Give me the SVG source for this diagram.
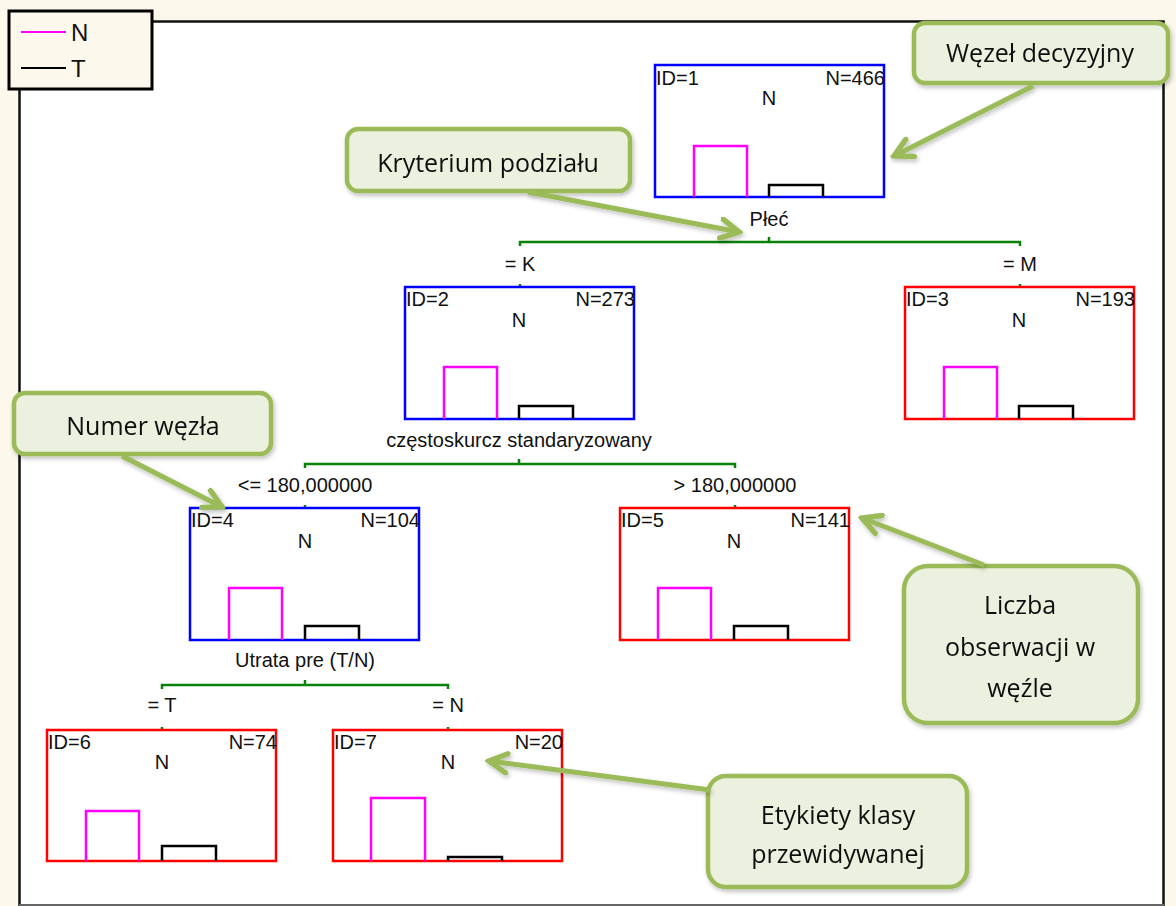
<svg xmlns="http://www.w3.org/2000/svg" width="1176" height="906" viewBox="0 0 1176 906">
<defs>
<style>
.t{font-family:"Liberation Sans",Arial,sans-serif;font-size:20px;fill:#111}
.m{text-anchor:middle}
.e{text-anchor:end}
.nb{fill:none;stroke:#0000ff;stroke-width:2.5}
.nr{fill:none;stroke:#ff0000;stroke-width:2.5}
.bp{fill:none;stroke:#ff00ff;stroke-width:2.5}
.bk{fill:none;stroke:#000;stroke-width:2.5}
.br{fill:none;stroke:#0a820a;stroke-width:2.5}
.co{fill:#ebf1de;stroke:#9bbb59;stroke-width:4.5}
.ct{font-family:"Open Sans","Noto Sans",sans-serif;font-size:25px;fill:#111;text-anchor:middle}
.ar{fill:none;stroke:#9bbb59;stroke-width:5;marker-end:url(#ah)}
</style>
<marker id="ah" viewBox="0 0 20 20" refX="17" refY="10" markerWidth="24" markerHeight="24" markerUnits="userSpaceOnUse" orient="auto">
<path d="M2,2 L17,10 L2,18" fill="none" stroke="#9bbb59" stroke-width="4.5" stroke-linecap="round" stroke-linejoin="miter"/>
</marker>
<filter id="sh" x="-10%" y="-10%" width="130%" height="140%">
<feDropShadow dx="1.5" dy="2.5" stdDeviation="2" flood-color="#000" flood-opacity="0.25"/>
</filter>
</defs>
<rect x="0" y="0" width="1176" height="906" fill="#fdf8ec"/>
<rect x="19.5" y="21.5" width="1144" height="890" fill="#fff" stroke="#111" stroke-width="2.5"/>
<line x1="19" y1="905" x2="1164" y2="905" stroke="#666" stroke-width="2"/>

<g id="legend">
<rect x="9" y="11" width="143" height="78" fill="#fdf8ec" stroke="#000" stroke-width="3"/>
<line x1="21" y1="32" x2="66" y2="32" stroke="#ff00ff" stroke-width="2"/>
<line x1="21" y1="68" x2="66" y2="68" stroke="#000" stroke-width="2"/>
<text class="t" x="71" y="41" style="font-size:24px">N</text>
<text class="t" x="71" y="77" style="font-size:24px">T</text>
</g>

<g id="connectors">
<path class="br" d="M520,246 V242 H1020 V246 M769,242 V237"/>
<path class="br" d="M520,284 V288 M1020,284 V288"/>
<path class="br" d="M305,468 V464 H735 V468 M519,464 V459"/>
<path class="br" d="M305,505 V509 M735,505 V509"/>
<path class="br" d="M162,689 V685 H448 V689 M305,685 V680"/>
<path class="br" d="M162,727 V731 M448,727 V731"/>
</g>

<g id="node1">
<rect class="nb" x="655" y="65" width="229" height="132"/>
<text class="t" x="656" y="85">ID=1</text>
<text class="t e" x="885" y="85">N=466</text>
<text class="t m" x="769" y="105">N</text>
<path class="bp" d="M694,197 V146 H747 V197"/>
<path class="bk" d="M769,197 V185 H823 V197"/>
<text class="t m" x="769" y="226">Płeć</text>
<text class="t m" x="520" y="271">= K</text>
<text class="t m" x="1020" y="271">= M</text>
</g>

<g id="node2">
<rect class="nb" x="405" y="287" width="229" height="132"/>
<text class="t" x="406" y="306">ID=2</text>
<text class="t e" x="635" y="306">N=273</text>
<text class="t m" x="519" y="327">N</text>
<path class="bp" d="M444,419 V367 H497 V419"/>
<path class="bk" d="M519,419 V406 H573 V419"/>
<text class="t m" x="519" y="447">częstoskurcz standaryzowany</text>
<text class="t m" x="305" y="492">&lt;= 180,000000</text>
<text class="t m" x="735" y="492">&gt; 180,000000</text>
</g>

<g id="node3">
<rect class="nr" x="905" y="287" width="229" height="132"/>
<text class="t" x="906" y="306">ID=3</text>
<text class="t e" x="1135" y="306">N=193</text>
<text class="t m" x="1019" y="327">N</text>
<path class="bp" d="M944,419 V367 H997 V419"/>
<path class="bk" d="M1019,419 V406 H1073 V419"/>
</g>

<g id="node4">
<rect class="nb" x="190" y="508" width="229" height="132"/>
<text class="t" x="191" y="527">ID=4</text>
<text class="t e" x="420" y="527">N=104</text>
<text class="t m" x="305" y="548">N</text>
<path class="bp" d="M229,640 V588 H282 V640"/>
<path class="bk" d="M305,640 V626 H359 V640"/>
<text class="t m" x="305" y="667">Utrata pre (T/N)</text>
<text class="t m" x="162" y="712">= T</text>
<text class="t m" x="448" y="712">= N</text>
</g>

<g id="node5">
<rect class="nr" x="620" y="508" width="229" height="132"/>
<text class="t" x="621" y="527">ID=5</text>
<text class="t e" x="850" y="527">N=141</text>
<text class="t m" x="734" y="548">N</text>
<path class="bp" d="M658,640 V588 H711 V640"/>
<path class="bk" d="M734,640 V626 H788 V640"/>
</g>

<g id="node6">
<rect class="nr" x="47" y="730" width="229" height="131"/>
<text class="t" x="48" y="749">ID=6</text>
<text class="t e" x="277" y="749">N=74</text>
<text class="t m" x="162" y="769">N</text>
<path class="bp" d="M86,861 V811 H139 V861"/>
<path class="bk" d="M162,861 V846 H216 V861"/>
</g>

<g id="node7">
<rect class="nr" x="333" y="730" width="229" height="131"/>
<text class="t" x="334" y="749">ID=7</text>
<text class="t e" x="563" y="749">N=20</text>
<text class="t m" x="448" y="769">N</text>
<path class="bp" d="M371,861 V798 H425 V861"/>
<path class="bk" d="M448,861 V857 H502 V861"/>
</g>

<g id="callout-wezel" filter="url(#sh)">
<rect class="co" x="914" y="23" width="254" height="60" rx="11"/>
<text class="ct" x="1040" y="62">Węzeł decyzyjny</text>
</g>
<g id="callout-kryterium" filter="url(#sh)">
<rect class="co" x="347" y="129" width="283" height="62" rx="11"/>
<text class="ct" x="488" y="172">Kryterium podziału</text>
</g>
<g id="callout-numer" filter="url(#sh)">
<rect class="co" x="14" y="393" width="257" height="61" rx="11"/>
<text class="ct" x="143" y="435">Numer węzła</text>
</g>
<g id="callout-liczba" filter="url(#sh)">
<rect class="co" x="904" y="566" width="234" height="157" rx="24"/>
<text class="ct" x="1020" y="614">Liczba</text>
<text class="ct" x="1020" y="656">obserwacji w</text>
<text class="ct" x="1020" y="697">węźle</text>
</g>
<g id="callout-etykiety" filter="url(#sh)">
<rect class="co" x="708" y="776" width="259" height="111" rx="18"/>
<text class="ct" x="838" y="824">Etykiety klasy</text>
<text class="ct" x="838" y="863">przewidywanej</text>
</g>

<g id="callout-arrows" filter="url(#sh)">
<line class="ar" x1="1033" y1="86" x2="894" y2="156"/>
<line class="ar" x1="528" y1="192" x2="739" y2="232"/>
<line class="ar" x1="122" y1="456" x2="222" y2="507"/>
<line class="ar" x1="984" y1="565" x2="862" y2="518"/>
<line class="ar" x1="710" y1="790" x2="489" y2="761"/>
</g>
</svg>
